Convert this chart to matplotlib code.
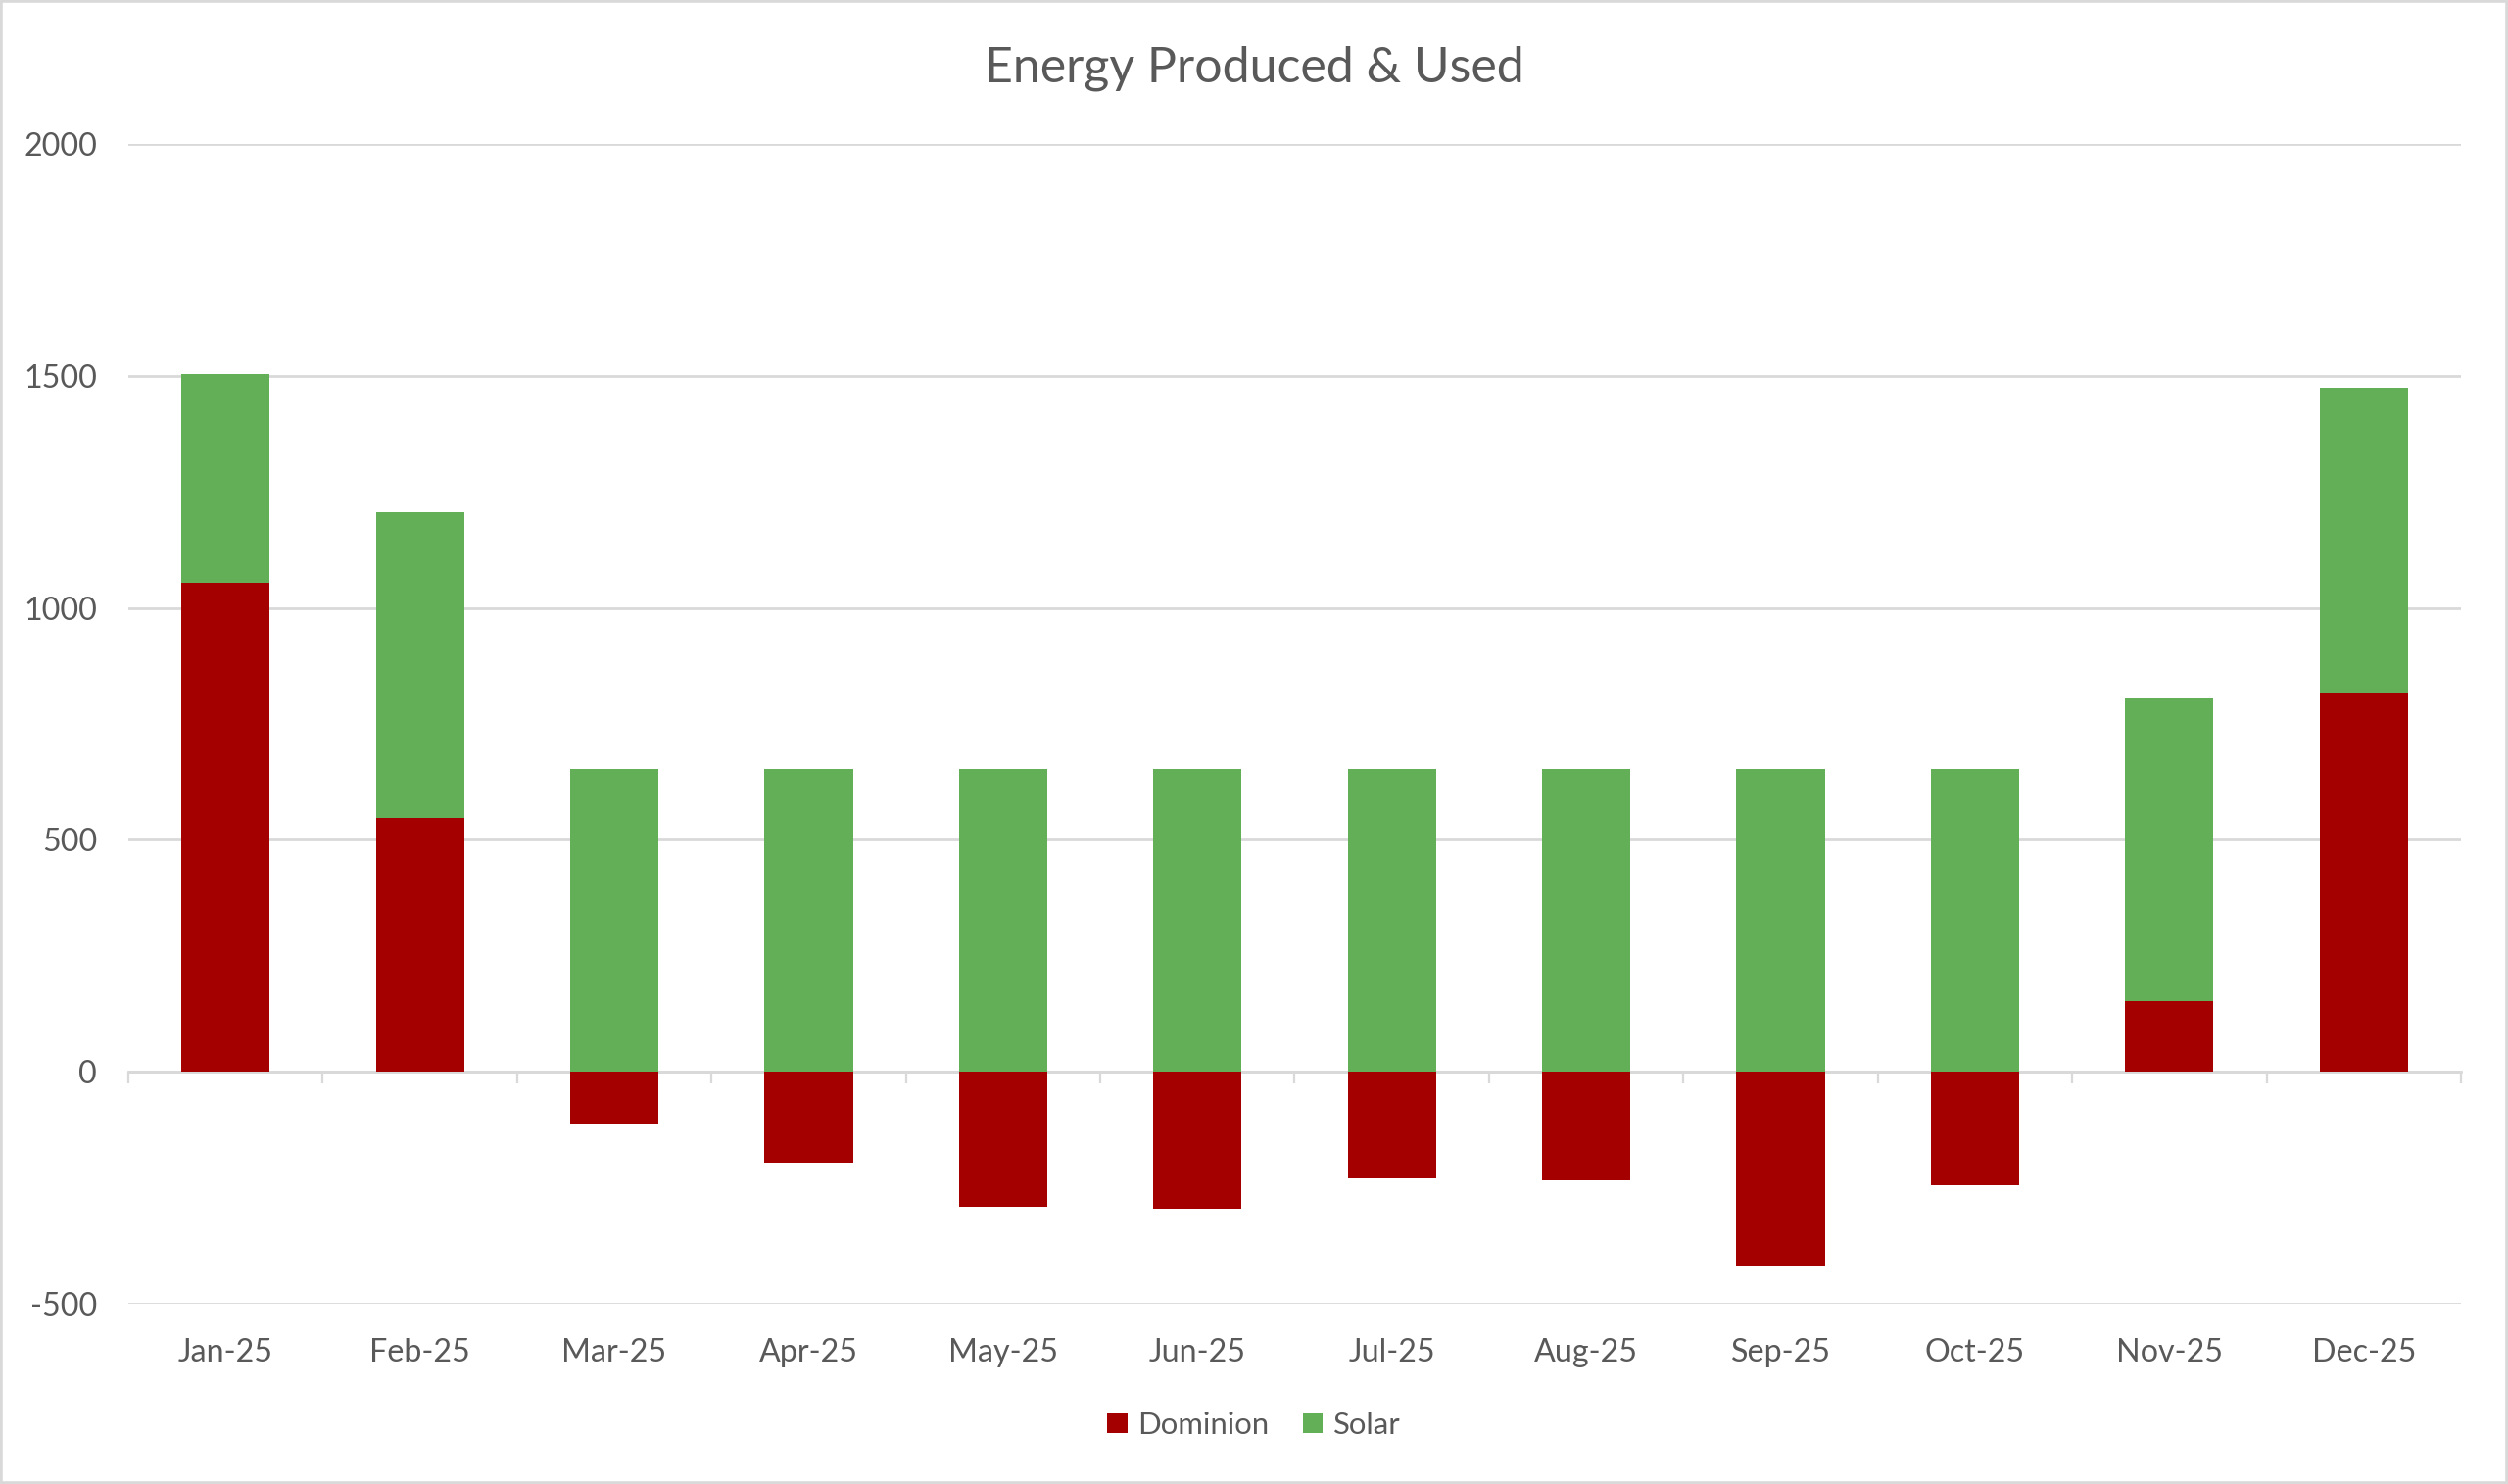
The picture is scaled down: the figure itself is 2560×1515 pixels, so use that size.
import numpy as np
import matplotlib.pyplot as plt
from matplotlib.patches import Rectangle

months = ['Jan-25', 'Feb-25', 'Mar-25', 'Apr-25', 'May-25', 'Jun-25',
          'Jul-25', 'Aug-25', 'Sep-25', 'Oct-25', 'Nov-25', 'Dec-25']
dominion = [1053, 547, -112, -195, -291, -295, -229, -233, -418, -245, 152, 817]
solar = [451, 660, 652, 652, 652, 652, 652, 652, 652, 652, 653, 658]

red = '#A40000'
green = '#63AF58'
grey_txt = '#595959'
grey_line = '#D9D9D9'

plt.rcParams['font.family'] = ['Lato', 'DejaVu Sans']
plt.rcParams['axes.unicode_minus'] = False

fig = plt.figure(figsize=(12.8, 7.575), dpi=200)
ax = fig.add_axes([131 / 2560, 1 - 1331 / 1515, (2512 - 131) / 2560, (1331 - 147) / 1515])

x = np.arange(len(months))
w = 0.4545
dom = np.array(dominion)
ax.bar(x, dom, w, color=red, label='Dominion', zorder=3)
ax.bar(x, solar, w, bottom=np.maximum(dom, 0), color=green, label='Solar', zorder=3)

ax.set_xlim(-0.5, len(months) - 0.5)
ax.set_ylim(-500, 2000)
ax.set_yticks([-500, 0, 500, 1000, 1500, 2000])
ax.yaxis.grid(True, color=grey_line, linewidth=1.0)
ax.set_axisbelow(True)
for s in ax.spines.values():
    s.set_visible(False)

ax.set_xticks(x)
ax.set_xticklabels(months)
ax.tick_params(axis='x', length=0, pad=12.5, labelsize=11.6, labelcolor=grey_txt)
ax.tick_params(axis='y', length=0, pad=11.5, labelsize=11.6, labelcolor=grey_txt)

# category axis line at zero with tick marks between months
sec = ax.secondary_xaxis(0, transform=ax.transData)
sec.set_xticks(np.arange(-0.5, len(months), 1.0))
sec.set_xticklabels([])
sec.tick_params(axis='x', length=4.3, width=0.8, color=grey_line)
for name, s in sec.spines.items():
    s.set_visible(name == 'bottom')
sec.spines['bottom'].set_color(grey_line)
sec.spines['bottom'].set_linewidth(1.0)

fig.text(0.5, 1 - 70 / 1515, 'Energy Produced & Used', ha='center', va='center',
         fontsize=18, color=grey_txt)

fig.legend(loc='center', bbox_to_anchor=(0.5, 1 - 1455 / 1515), ncol=2, frameon=False,
           fontsize=11.2, labelcolor=grey_txt, handlelength=0.65, handleheight=0.65,
           handletextpad=0.35, columnspacing=1.1)

fig.patches.append(Rectangle((0, 0), 1, 1, transform=fig.transFigure, fill=False,
                             edgecolor=grey_line, linewidth=2))

fig.savefig('out.png', dpi=200)
